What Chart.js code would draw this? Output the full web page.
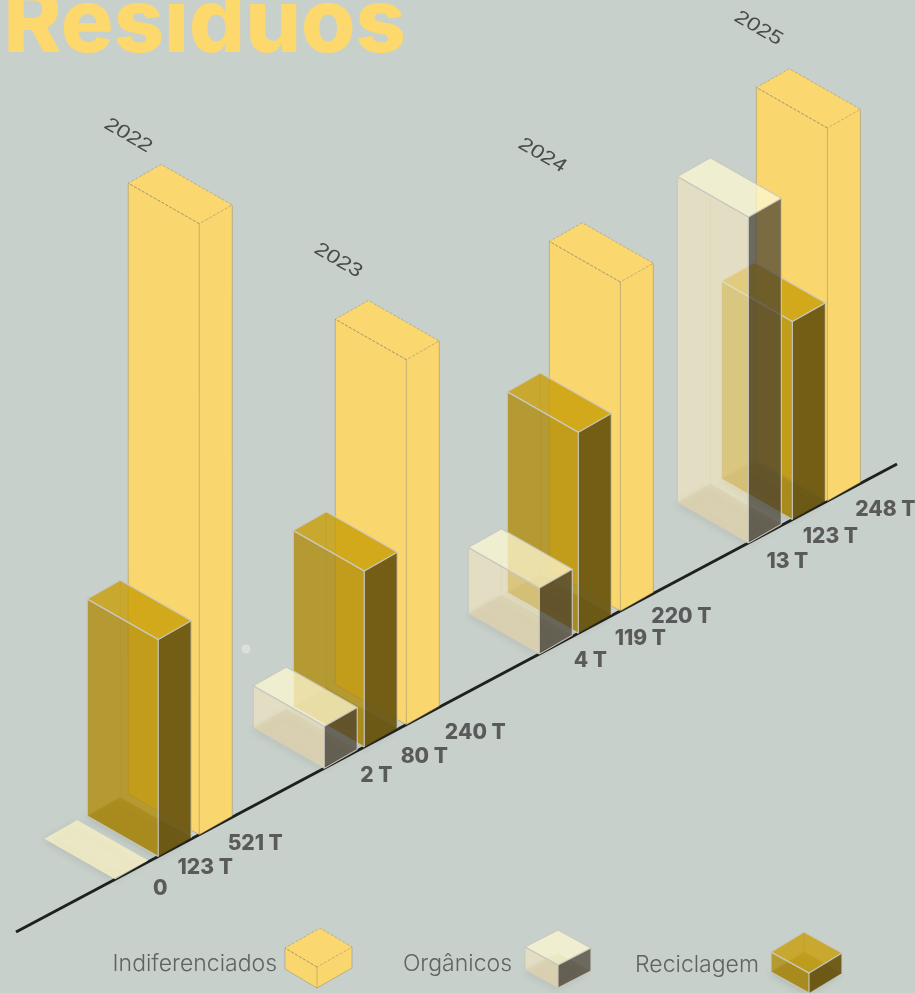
<!DOCTYPE html>
<html lang="pt">
<head>
<meta charset="utf-8">
<title>Residuos</title>
<script src="https://cdn.jsdelivr.net/npm/chart.js@4"></script>
<style>
  html, body { margin: 0; padding: 0; background: #c8d0cb; overflow: hidden; }
  canvas { display: block; }
</style>
</head>
<body>
<canvas id="residuos" width="915" height="993"></canvas>
<script>
const years = ["2022", "2023", "2024", "2025"];

// toneladas escritas junto a cada barra
const indiferenciadosValues = [521, 240, 220, 248];
const organicosValues = [0, 2, 4, 13];
const reciclagemValues = [123, 80, 119, 123];

// altura desenhada de cada barra (o original nao e proporcional as toneladas)
const indiferenciadosHeights = [611, 365, 329, 373];
const organicosHeights = [0, 42, 66, 326];
const reciclagemHeights = [217, 176, 201, 198];

// perspetiva: a linha de base sobe da esquerda para a direita
const AXIS_START = { x: 16, y: 932 };
const AXIS_END = { x: 897, y: 464 };
const AXIS_SLOPE = (AXIS_START.y - AXIS_END.y) / (AXIS_END.x - AXIS_START.x);
const SIDE_LEFT = { x: -71, y: -40.5 };
const SIDE_RIGHT = { x: 33, y: -18.7 };

const styles = {
  indiferenciados: {
    left: "#fad76e", right: "#f9d66e", top: "#fbd86f",
    edge: "rgba(130,120,85,0.5)", edgeWidth: 0.8, dash: [3, 1.5]
  },
  organicos: {
    left: "rgba(246,231,189,0.56)", right: "rgba(69,61,49,0.7)", top: "rgba(253,248,209,0.75)",
    floor: "rgba(150,130,70,0.25)", back: "rgba(150,140,100,0.18)",
    edge: "rgba(200,200,192,0.95)", edgeWidth: 1.2
  },
  reciclagem: {
    left: "rgba(175,136,0,0.75)", right: "rgba(105,85,15,0.93)", top: "rgba(200,158,6,0.8)",
    floor: "rgba(90,70,0,0.35)", back: "rgba(110,90,20,0.2)",
    edge: "rgba(200,200,192,0.95)", edgeWidth: 1.2, noBaseEdge: true
  }
};

// pequeno desvio horizontal de cada grupo no original, por ano
const frontShift = {
  organicos: [0, -2, 2, 0],
  reciclagem: [2, -3, 0, 3],
  indiferenciados: [2, -2, 1, -3]
};

// ajuste dos rotulos em relacao a base de cada barra, [dx, dy] por ano
const labelOffsets = {
  organicos: [[45, 9], [50, 9], [53, 6], [39, 19]],
  reciclagem: [[49, 10], [57, 11], [62, 5], [41, 16]],
  indiferenciados: [[58, 8], [67, 9], [62, 5], [55, 10]]
};
const yearOffsets = [[-31, -30], [-32, -39], [-39, -68], [-34, -39]];

const legendItems = [
  { key: "indiferenciados", textRight: 277, baseline: 971, front: 317, top: 967, height: 21, l: { x: -32, y: -19 }, r: { x: 35, y: -20 } },
  { key: "organicos", textRight: 512, baseline: 971, front: 558, top: 965, height: 23, l: { x: -33, y: -18 }, r: { x: 33, y: -17 } },
  { key: "reciclagem", textRight: 759, baseline: 972, front: 809, top: 973, height: 20, l: { x: -38, y: -21 }, r: { x: 33, y: -20 } }
];

function axisY(x) {
  return AXIS_START.y - (x - AXIS_START.x) * AXIS_SLOPE;
}

function poly(ctx, points) {
  ctx.beginPath();
  points.forEach((p, i) => (i ? ctx.lineTo(p[0], p[1]) : ctx.moveTo(p[0], p[1])));
  ctx.closePath();
}

function strokeLine(ctx, a, b) {
  ctx.beginPath();
  ctx.moveTo(a[0], a[1]);
  ctx.lineTo(b[0], b[1]);
  ctx.stroke();
}

// Desenha uma caixa isometrica a partir do vertice da frente
function drawBox(ctx, x, y, h, style, l, r) {
  const fb = [x, y];
  const lb = [x + l.x, y + l.y];
  const rb = [x + r.x, y + r.y];
  const bb = [x + l.x + r.x, y + l.y + r.y];
  const up = (p) => [p[0], p[1] - h];
  const ft = up(fb), lt = up(lb), rt = up(rb), bt = up(bb);

  ctx.save();
  if (style.floor) {
    ctx.save();
    ctx.shadowColor = "rgba(70,70,60,0.45)";
    ctx.shadowBlur = 7;
    ctx.shadowOffsetX = -2;
    ctx.shadowOffsetY = 2;
    ctx.fillStyle = style.floor;
    poly(ctx, [fb, lb, bb, rb]);
    ctx.fill();
    ctx.restore();
  }
  if (style.back && h > 0) {
    ctx.strokeStyle = style.back;
    ctx.lineWidth = 1;
    strokeLine(ctx, bb, bt);
  }
  if (h > 0) {
    ctx.fillStyle = style.left;
    poly(ctx, [fb, lb, lt, ft]);
    ctx.fill();
    ctx.fillStyle = style.right;
    poly(ctx, [fb, rb, rt, ft]);
    ctx.fill();
  }
  ctx.fillStyle = style.top;
  poly(ctx, [ft, lt, bt, rt]);
  ctx.fill();

  if (h > 0) {
    ctx.strokeStyle = style.edge;
    ctx.lineWidth = style.edgeWidth;
    strokeLine(ctx, fb, ft);
    strokeLine(ctx, lb, lt);
    strokeLine(ctx, rb, rt);
    strokeLine(ctx, fb, lb);
    if (!style.noBaseEdge) strokeLine(ctx, fb, rb);
    if (style.dash) ctx.setLineDash(style.dash);
    poly(ctx, [ft, lt, bt, rt]);
    ctx.stroke();
    strokeLine(ctx, ft, lt);
  }
  ctx.restore();
}

const isoPlugin = {
  id: "isoBoxes",
  afterDatasetsDraw(chart) {
    const ctx = chart.ctx;
    const bottom = chart.scales.y.getPixelForValue(0);

    // titulo
    ctx.save();
    ctx.fillStyle = "#fdd86c";
    ctx.font = "800 88px Inter, 'Open Sans', sans-serif";
    ctx.textBaseline = "alphabetic";
    ctx.fillText("Residuos", 3.5, 52);
    ctx.restore();

    // ponto claro solto no original
    ctx.save();
    ctx.fillStyle = "rgba(222,224,224,0.9)";
    ctx.beginPath();
    ctx.arc(246, 649, 4.5, 0, Math.PI * 2);
    ctx.fill();
    ctx.restore();

    // linha de base
    ctx.save();
    ctx.strokeStyle = "#1f2120";
    ctx.lineWidth = 3;
    strokeLine(ctx, [AXIS_START.x, AXIS_START.y], [AXIS_END.x, AXIS_END.y]);
    ctx.restore();

    // as caixas de tras primeiro
    [2, 1, 0].forEach((datasetIndex) => {
      const dataset = chart.data.datasets[datasetIndex];
      chart.getDatasetMeta(datasetIndex).data.forEach((bar, i) => {
        const h = bottom - bar.y;
        const x = bar.x + frontShift[dataset.key][i];
        drawBox(ctx, x, axisY(x), h, styles[dataset.key], SIDE_LEFT, SIDE_RIGHT);
      });
    });

    // rotulos de toneladas
    ctx.save();
    ctx.fillStyle = "#5a5a5a";
    ctx.font = "800 21px Inter, 'Open Sans', sans-serif";
    ctx.textAlign = "center";
    ctx.textBaseline = "middle";
    chart.data.datasets.forEach((dataset, datasetIndex) => {
      chart.getDatasetMeta(datasetIndex).data.forEach((bar, i) => {
        const value = dataset.tons[i];
        const text = value === 0 ? "0" : value + " T";
        const offset = labelOffsets[dataset.key][i];
        ctx.fillText(text, bar.x + offset[0], axisY(bar.x) + offset[1]);
      });
    });
    ctx.restore();

    // anos, inclinados sobre a barra maior
    const tallest = chart.getDatasetMeta(2).data;
    years.forEach((year, i) => {
      const bar = tallest[i];
      const topY = axisY(bar.x) - (bottom - bar.y);
      ctx.save();
      ctx.translate(
        bar.x + SIDE_LEFT.x + SIDE_RIGHT.x + yearOffsets[i][0],
        topY + SIDE_LEFT.y + SIDE_RIGHT.y + yearOffsets[i][1]
      );
      ctx.transform(0.87, 0.5, -0.32, 0.78, 0, 0);
      ctx.fillStyle = "#484c4a";
      ctx.font = "italic 23px 'Liberation Sans', sans-serif";
      ctx.textAlign = "center";
      ctx.textBaseline = "middle";
      ctx.fillText(year, 0, 0);
      ctx.restore();
    });

    // legenda
    ctx.save();
    ctx.font = "300 23px Inter, 'Open Sans', sans-serif";
    ctx.fillStyle = "#5f6361";
    ctx.textAlign = "right";
    legendItems.forEach((item) => {
      const dataset = chart.data.datasets.find((d) => d.key === item.key);
      ctx.fillText(dataset.label, item.textRight, item.baseline);
      drawBox(ctx, item.front, item.top + item.height, item.height, styles[item.key], item.l, item.r);
    });
    ctx.restore();
  }
};

new Chart(document.getElementById("residuos"), {
  type: "bar",
  data: {
    labels: years,
    datasets: [
      { key: "organicos", label: "Orgânicos", data: organicosHeights, tons: organicosValues, backgroundColor: "transparent" },
      { key: "reciclagem", label: "Reciclagem", data: reciclagemHeights, tons: reciclagemValues, backgroundColor: "transparent" },
      { key: "indiferenciados", label: "Indiferenciados", data: indiferenciadosHeights, tons: indiferenciadosValues, backgroundColor: "transparent" }
    ]
  },
  options: {
    responsive: false,
    animation: false,
    categoryPercentage: 0.583,
    barPercentage: 1,
    layout: { padding: { left: 50.7, right: 20.1, top: 0, bottom: 61 } },
    scales: {
      x: { display: false },
      y: { display: false, min: 0, max: 932 }
    },
    plugins: {
      legend: { display: false },
      tooltip: { enabled: false }
    }
  },
  plugins: [isoPlugin]
});
</script>
</body>
</html>
